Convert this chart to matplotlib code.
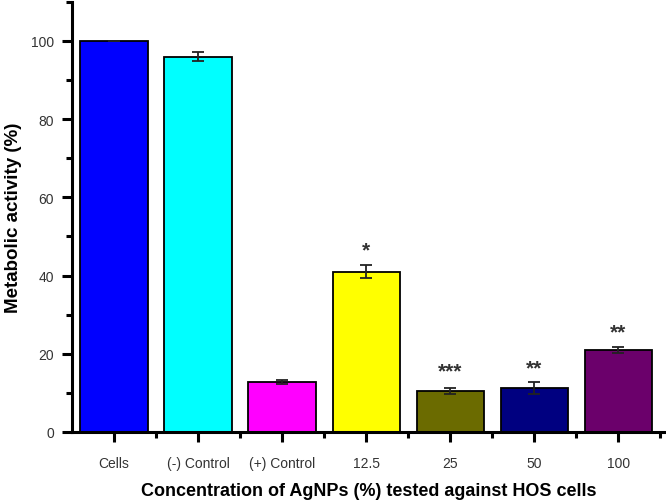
import matplotlib.pyplot as plt
from matplotlib.ticker import MultipleLocator, FixedLocator

plt.rcParams['font.family'] = ['Liberation Sans', 'DejaVu Sans']

groups = ['Cells', '(-) Control', '(+) Control', '12.5', '25', '50', '100']
activity = [100, 96, 12.8, 41, 10.5, 11.3, 21]
errors = [0, 1.1, 0.5, 1.6, 0.8, 1.6, 0.8]
stars = ['', '', '', '*', '***', '**', '**']
star_y = [0, 0, 0, 46.5, 15.5, 16.5, 25.5]
colors = ['#0000ff', '#00ffff', '#ff00ff', '#ffff00', '#6b6b00', '#000080', '#6b006b']

fig = plt.figure(figsize=(6.66, 5.02), dpi=100)
ax = fig.add_axes([0.108, 0.1375, 0.89, 0.857])

x = range(len(groups))
ax.bar(x, activity, width=0.8, color=colors, edgecolor='black', linewidth=1.3,
       yerr=errors, error_kw=dict(ecolor='#222222', elinewidth=1.3, capsize=4, capthick=1.3))

for i, s in enumerate(stars):
    if s:
        ax.text(i, star_y[i], s, ha='center', va='center', fontsize=15,
                fontweight='bold', color='#333333')

ax.set_xlim(-0.5, 6.55)
ax.set_ylim(0, 110)
ax.set_xticks(list(x))
ax.set_xticklabels(groups)
ax.xaxis.set_minor_locator(FixedLocator([i + 0.5 for i in x]))
ax.yaxis.set_major_locator(MultipleLocator(20))
ax.yaxis.set_minor_locator(MultipleLocator(10))

for side in ['top', 'right']:
    ax.spines[side].set_visible(False)
for side in ['left', 'bottom']:
    ax.spines[side].set_linewidth(2.2)

ax.tick_params(axis='both', which='major', direction='out', length=7, width=2.2,
               labelsize=10, labelcolor='#333333')
ax.tick_params(axis='x', which='major', pad=10)
ax.tick_params(axis='y', which='major', pad=6)
ax.tick_params(axis='both', which='minor', direction='out', length=4, width=2.2)

ax.set_ylabel('Metabolic activity (%)', fontsize=13.5, fontweight='bold', labelpad=6)
ax.set_xlabel('Concentration of AgNPs (%) tested against HOS cells', fontsize=13,
              fontweight='bold', labelpad=9)

fig.savefig('out.png', dpi=100)
